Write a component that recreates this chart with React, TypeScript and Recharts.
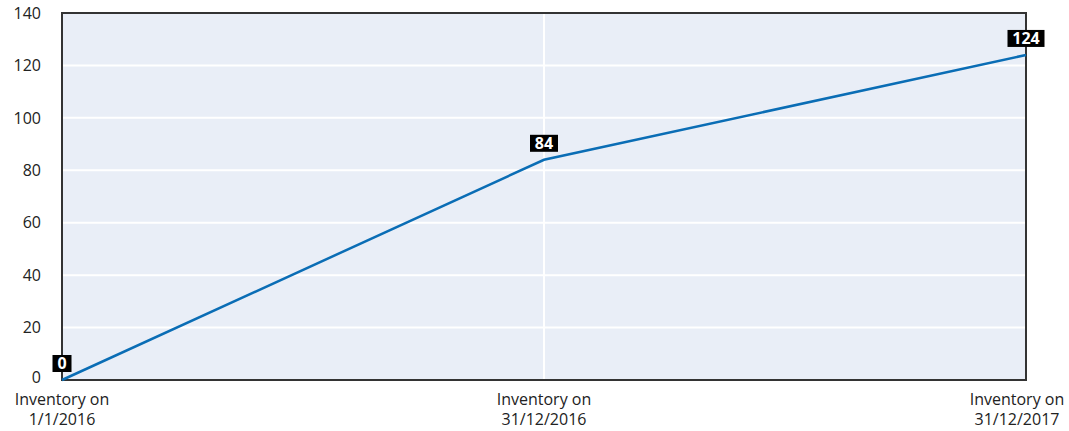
import React from "react";
import { LineChart, Line, XAxis, YAxis, CartesianGrid, LabelList, ReferenceArea } from "recharts";

const categories = ["Inventory on|1/1/2016", "Inventory on|31/12/2016", "Inventory on|31/12/2017"];
const values = [0, 84, 124];
const yTicks = [0, 20, 40, 60, 80, 100, 120, 140];

const data = categories.map((c, i) => ({ name: c, value: values[i] }));

const FONT = "'Open Sans', 'Noto Sans', sans-serif";
const CHART_W = 1069;

const XTick = (props: any) => {
  const { x, y, payload } = props;
  const lines = String(payload.value).split("|");
  const half = 51;
  const cx = Math.max(half + 10, Math.min(x, CHART_W - half - 1));
  return (
    <text x={cx} y={y} textAnchor="middle" fill="#222" fontSize={16} fontFamily={FONT}>
      {lines.map((l, i) => (
        <tspan key={i} x={cx} dy={i === 0 ? 17 : 20}>
          {l}
        </tspan>
      ))}
    </text>
  );
};

const YTick = (props: any) => {
  const { x, y, payload } = props;
  const nudge = payload.value === 0 ? -3 : 0;
  return (
    <text x={x} y={y + nudge} dy="0.355em" textAnchor="end" fill="#222" fontSize={16} fontFamily={FONT}>
      {payload.value}
    </text>
  );
};

const ValueLabel = (props: any) => {
  const { x, y, value } = props;
  const s = String(value);
  const w = s.length * 9 + 10;
  const h = 17;
  const bottom = y - 8;
  return (
    <g>
      <rect x={x - w / 2} y={bottom - h} width={w} height={h} fill="#000" />
      <text x={x} y={bottom - 3} textAnchor="middle" fill="#fff" fontSize={16} fontWeight="bold" fontFamily={FONT}>
        {s}
      </text>
    </g>
  );
};

export default function App() {
  return (
    <div style={{ position: "absolute", left: 0, top: 0 }}>
      <LineChart width={CHART_W} height={431} data={data} margin={{ top: 13, right: 43, bottom: 0, left: 0 }}>
        <CartesianGrid fill="#E9EEF7" stroke="#fff" strokeWidth={2} />
        <XAxis
          dataKey="name"
          height={51}
          padding={{ left: 0, right: 0 }}
          tickLine={false}
          axisLine={false}
          tick={<XTick />}
          interval={0}
        />
        <YAxis
          width={62}
          domain={[0, 140]}
          ticks={yTicks}
          tickLine={false}
          axisLine={false}
          tickSize={0}
          tickMargin={21}
          tick={<YTick />}
        />
        <ReferenceArea
          x1={categories[0]}
          x2={categories[2]}
          y1={0}
          y2={140}
          fill="none"
          stroke="#333"
          strokeWidth={2}
          fillOpacity={0}
        />
        <Line
          type="linear"
          dataKey="value"
          stroke="#0A6DB5"
          strokeWidth={2.5}
          dot={false}
          isAnimationActive={false}
        >
          <LabelList dataKey="value" content={<ValueLabel />} />
        </Line>
      </LineChart>
    </div>
  );
}
